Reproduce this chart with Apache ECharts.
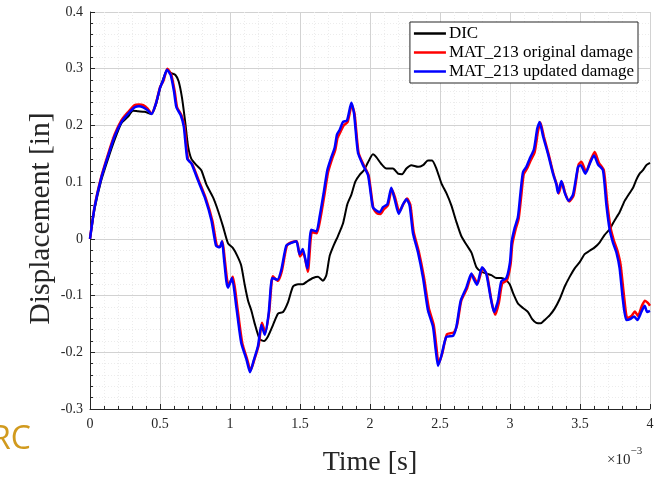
<!DOCTYPE html>
<html>
<head>
<meta charset="utf-8">
<script src="https://cdn.jsdelivr.net/npm/echarts@6/dist/echarts.min.js"></script>
<style>
  html, body { margin: 0; padding: 0; background: #fff; }
  #chart { width: 666px; height: 482px; }
</style>
</head>
<body>
<div id="chart"></div>
<script>
// time in units of 1e-3 s, displacement in inches
const dicT = [0,0.033,0.08,0.13,0.176,0.224,0.27,0.307,0.343,0.39,0.438,0.47,0.5,0.52,0.55,0.581,0.61,0.633,0.657,0.681,0.7,0.724,0.76,0.795,0.831,0.879,0.914,0.95,0.986,1.02,1.052,1.08,1.105,1.129,1.152,1.176,1.212,1.243,1.271,1.307,1.343,1.379,1.414,1.45,1.486,1.52,1.557,1.593,1.629,1.664,1.688,1.712,1.743,1.771,1.807,1.838,1.867,1.895,1.926,1.957,1.986,2.021,2.045,2.081,2.117,2.164,2.2,2.229,2.26,2.295,2.343,2.379,2.414,2.443,2.474,2.51,2.545,2.581,2.617,2.652,2.688,2.724,2.76,2.795,2.83,2.867,2.902,2.938,2.967,2.998,3.021,3.057,3.093,3.129,3.157,3.188,3.219,3.248,3.283,3.319,3.355,3.391,3.426,3.462,3.498,3.533,3.569,3.605,3.641,3.676,3.712,3.748,3.783,3.819,3.855,3.879,3.902,3.926,3.95,3.974,4.0];
const dicV = [0,0.053,0.103,0.142,0.175,0.204,0.215,0.226,0.225,0.224,0.22,0.236,0.265,0.28,0.297,0.292,0.289,0.278,0.249,0.204,0.164,0.141,0.13,0.121,0.096,0.073,0.05,0.022,-0.008,-0.016,-0.03,-0.047,-0.081,-0.109,-0.126,-0.149,-0.177,-0.18,-0.172,-0.152,-0.132,-0.129,-0.112,-0.084,-0.08,-0.08,-0.074,-0.069,-0.067,-0.074,-0.064,-0.03,-0.01,0.005,0.027,0.061,0.078,0.101,0.113,0.121,0.135,0.149,0.144,0.132,0.124,0.124,0.115,0.114,0.124,0.13,0.127,0.13,0.138,0.138,0.124,0.098,0.081,0.059,0.03,0.005,-0.01,-0.024,-0.05,-0.058,-0.061,-0.064,-0.069,-0.069,-0.072,-0.08,-0.095,-0.114,-0.122,-0.129,-0.141,-0.148,-0.149,-0.143,-0.135,-0.123,-0.106,-0.084,-0.067,-0.052,-0.041,-0.027,-0.021,-0.015,-0.006,0.007,0.017,0.033,0.047,0.067,0.081,0.09,0.104,0.115,0.121,0.13,0.134];

const origT = [0,0.033,0.08,0.13,0.176,0.224,0.27,0.32,0.35,0.38,0.41,0.44,0.47,0.5,0.525,0.553,0.58,0.605,0.622,0.653,0.675,0.7,0.73,0.778,0.828,0.875,0.906,0.93,0.946,0.962,0.978,0.99,1.02,1.052,1.087,1.122,1.147,1.175,1.205,1.228,1.252,1.28,1.306,1.342,1.37,1.406,1.44,1.477,1.5,1.523,1.556,1.585,1.62,1.645,1.676,1.7,1.728,1.752,1.768,1.788,1.812,1.84,1.87,1.89,1.918,1.955,1.99,2.024,2.05,2.075,2.098,2.128,2.156,2.18,2.21,2.24,2.265,2.288,2.312,2.348,2.384,2.42,2.455,2.474,2.49,2.515,2.55,2.598,2.622,2.652,2.692,2.728,2.748,2.768,2.805,2.836,2.868,2.894,2.92,2.944,2.978,3.004,3.016,3.038,3.062,3.082,3.098,3.122,3.145,3.176,3.2,3.217,3.242,3.277,3.312,3.336,3.348,3.372,3.396,3.424,3.455,3.49,3.51,3.543,3.575,3.605,3.635,3.67,3.694,3.718,3.742,3.766,3.79,3.814,3.838,3.868,3.892,3.914,3.942,3.964,3.985,4.0];
const origV = [0,0.057,0.109,0.15,0.184,0.209,0.223,0.236,0.237,0.236,0.23,0.221,0.238,0.267,0.279,0.3,0.29,0.26,0.232,0.218,0.198,0.14,0.132,0.102,0.071,0.031,-0.012,-0.014,-0.004,-0.035,-0.07,-0.082,-0.067,-0.12,-0.183,-0.212,-0.232,-0.212,-0.187,-0.148,-0.165,-0.128,-0.066,-0.074,-0.057,-0.012,-0.006,-0.004,-0.031,-0.024,-0.058,0.012,0.01,0.035,0.08,0.117,0.14,0.157,0.178,0.188,0.2,0.206,0.236,0.22,0.152,0.13,0.112,0.054,0.045,0.044,0.052,0.059,0.088,0.072,0.048,0.062,0.071,0.06,0.012,-0.022,-0.066,-0.122,-0.152,-0.19,-0.22,-0.203,-0.168,-0.165,-0.152,-0.109,-0.088,-0.063,-0.07,-0.079,-0.052,-0.064,-0.11,-0.134,-0.113,-0.079,-0.073,-0.045,-0.01,0.015,0.036,0.08,0.114,0.124,0.137,0.153,0.19,0.205,0.18,0.148,0.113,0.094,0.08,0.1,0.079,0.066,0.077,0.131,0.136,0.118,0.138,0.153,0.134,0.121,0.064,0.02,-0.003,-0.02,-0.046,-0.1,-0.14,-0.136,-0.128,-0.136,-0.118,-0.109,-0.113,-0.118];

const updT = [0,0.033,0.08,0.13,0.176,0.224,0.27,0.32,0.35,0.38,0.41,0.44,0.47,0.5,0.52,0.55,0.576,0.6,0.617,0.648,0.67,0.695,0.724,0.77,0.82,0.867,0.9,0.926,0.943,0.957,0.974,0.986,1.014,1.045,1.08,1.117,1.143,1.17,1.2,1.224,1.248,1.276,1.302,1.338,1.366,1.402,1.438,1.474,1.497,1.52,1.552,1.58,1.617,1.64,1.671,1.695,1.724,1.748,1.764,1.783,1.807,1.836,1.867,1.886,1.914,1.95,1.986,2.02,2.045,2.07,2.093,2.124,2.152,2.176,2.205,2.236,2.26,2.283,2.307,2.343,2.379,2.414,2.45,2.469,2.486,2.51,2.545,2.593,2.617,2.648,2.688,2.724,2.743,2.764,2.8,2.83,2.862,2.886,2.914,2.938,2.974,3.0,3.012,3.033,3.057,3.076,3.093,3.117,3.14,3.171,3.195,3.212,3.236,3.271,3.307,3.331,3.343,3.367,3.391,3.419,3.45,3.486,3.505,3.538,3.569,3.6,3.629,3.664,3.688,3.712,3.736,3.76,3.783,3.807,3.831,3.862,3.886,3.91,3.938,3.962,3.98,4.0];
const updV = [0,0.056,0.107,0.147,0.181,0.206,0.22,0.232,0.234,0.232,0.227,0.22,0.238,0.266,0.278,0.298,0.289,0.26,0.232,0.218,0.198,0.141,0.133,0.104,0.073,0.033,-0.012,-0.015,-0.004,-0.035,-0.075,-0.086,-0.069,-0.12,-0.183,-0.212,-0.235,-0.214,-0.189,-0.152,-0.169,-0.132,-0.069,-0.072,-0.055,-0.012,-0.007,-0.004,-0.027,-0.018,-0.052,0.016,0.013,0.039,0.084,0.121,0.144,0.161,0.184,0.192,0.206,0.209,0.24,0.221,0.152,0.13,0.112,0.056,0.05,0.047,0.056,0.061,0.09,0.07,0.044,0.061,0.07,0.059,0.01,-0.024,-0.069,-0.126,-0.155,-0.195,-0.224,-0.206,-0.173,-0.171,-0.155,-0.109,-0.086,-0.061,-0.072,-0.081,-0.05,-0.061,-0.104,-0.129,-0.109,-0.075,-0.069,-0.041,-0.005,0.019,0.039,0.084,0.118,0.127,0.141,0.158,0.195,0.206,0.181,0.15,0.115,0.096,0.081,0.102,0.081,0.067,0.078,0.127,0.13,0.115,0.132,0.147,0.131,0.121,0.061,0.016,-0.007,-0.024,-0.052,-0.109,-0.143,-0.141,-0.137,-0.143,-0.129,-0.118,-0.129,-0.127];

const seriesNames = ['DIC', 'MAT_213 original damage', 'MAT_213 updated damage'];
const seriesColors = ['#000000', '#ff0000', '#0000ff'];

function zip(t, v) { return t.map((x, i) => [x, v[i]]); }

const serif = 'Liberation Serif';
const chart = echarts.init(document.getElementById('chart'), null, {renderer: 'canvas'});

const axisCommon = {
  axisLine: {show: true, onZero: false, lineStyle: {color: '#262626', width: 1}},
  axisTick: {show: true, inside: true, length: 5, lineStyle: {color: '#262626'}},
  minorTick: {show: true, splitNumber: 5, length: 3, lineStyle: {color: '#262626'}},
  splitLine: {show: true, lineStyle: {color: '#d2d2d2', width: 1}},
  minorSplitLine: {show: true, lineStyle: {color: '#ececec', type: [1, 2], width: 1}},
  axisLabel: {color: '#262626', fontFamily: serif, fontSize: 14}
};

chart.setOption({
  animation: false,
  backgroundColor: '#fff',
  grid: {left: 90, right: 16, top: 12, bottom: 60},
  xAxis: Object.assign({}, axisCommon, {
    type: 'value', min: 0, max: 4, interval: 0.5,
    name: 'Time [s]', nameLocation: 'middle', nameGap: 40,
    nameTextStyle: {fontFamily: serif, fontSize: 28, color: '#262626'},
    axisLabel: Object.assign({}, axisCommon.axisLabel, {margin: 8})
  }),
  yAxis: Object.assign({}, axisCommon, {
    type: 'value', min: -0.3, max: 0.4, interval: 0.1,
    name: 'Displacement [in]', nameLocation: 'middle', nameGap: 34, nameMoveOverlap: false,
    nameTextStyle: {fontFamily: serif, fontSize: 29.5, color: '#262626', padding: [0, 16, 0, 0]},
    axisLabel: Object.assign({}, axisCommon.axisLabel, {margin: 7})
  }),
  legend: {
    orient: 'vertical', right: 28, top: 22,
    backgroundColor: '#fff', borderColor: '#262626', borderWidth: 1,
    padding: [3, 4, 3, 4], itemGap: 2,
    icon: 'rect', itemWidth: 32, itemHeight: 2.5,
    textStyle: {fontFamily: serif, fontSize: 17, color: '#000', padding: [0, 0, 0, -2]},
    data: seriesNames
  },
  graphic: [
    {
      type: 'text', left: 607, top: 446,
      style: {
        text: '{a|×10}{b|−3}',
        rich: {
          a: {fontFamily: serif, fontSize: 15, fill: '#262626', padding: [7, 0, 0, 0]},
          b: {fontFamily: serif, fontSize: 11, fill: '#262626', verticalAlign: 'top'}
        }
      }
    },
    {
      type: 'text', left: -9, top: 424,
      style: {text: 'RC', fontFamily: 'Open Sans', fontSize: 32, fill: '#d19a1e'}
    }
  ],
  series: [
    {name: seriesNames[0], type: 'line', data: zip(dicT, dicV), showSymbol: false, symbol: 'none',
     smooth: 0.2, lineStyle: {color: seriesColors[0], width: 2}, itemStyle: {color: seriesColors[0]}},
    {name: seriesNames[1], type: 'line', data: zip(origT, origV), showSymbol: false, symbol: 'none',
     smooth: 0.2, lineStyle: {color: seriesColors[1], width: 2.5}, itemStyle: {color: seriesColors[1]}},
    {name: seriesNames[2], type: 'line', data: zip(updT, updV), showSymbol: false, symbol: 'none',
     smooth: 0.2, lineStyle: {color: seriesColors[2], width: 2.5}, itemStyle: {color: seriesColors[2]}}
  ]
});
</script>
</body>
</html>
